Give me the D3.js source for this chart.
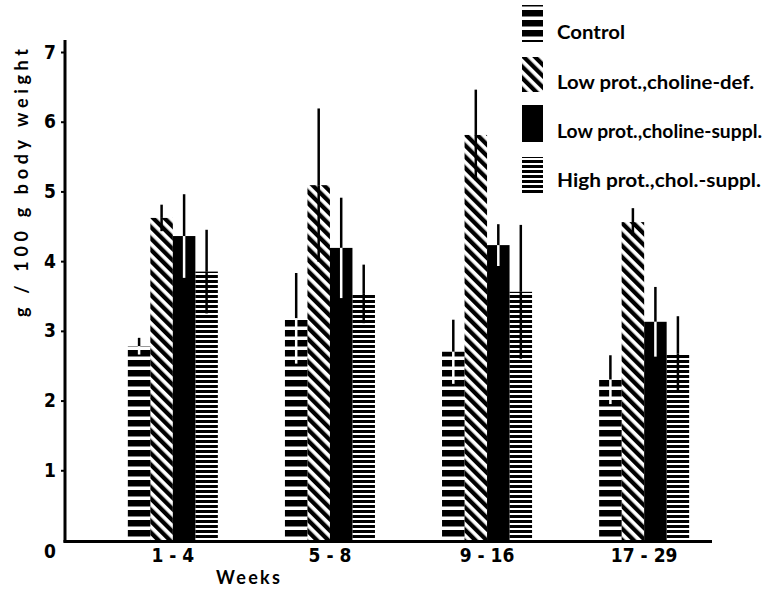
<!DOCTYPE html>
<html><head><meta charset="utf-8">
<script src="https://cdn.jsdelivr.net/npm/d3@7"></script>
<style>body{margin:0;background:#fff}</style>
</head><body>
<svg id="c" width="777" height="590"></svg>
<script>
const weeks = ["1 - 4", "5 - 8", "9 - 16", "17 - 29"];
const seriesNames = ["Control", "Low prot.,choline-def.", "Low prot.,choline-suppl.", "High prot.,chol.-suppl."];
const control    = [2.78, 3.18, 2.70, 2.30];
const controlSD  = [0.12, 0.65, 0.46, 0.35];
const lowDef     = [4.62, 5.09, 5.81, 4.56];
const lowDefSD   = [0.19, 1.10, 0.65, 0.20];
const lowSupp    = [4.36, 4.19, 4.23, 3.13];
const lowSuppSD  = [0.60, 0.72, 0.30, 0.50];
const highProt   = [3.85, 3.53, 3.56, 2.68];
const highProtSD = [0.60, 0.42, 0.96, 0.53];
const yTicks = [0, 1, 2, 3, 4, 5, 6, 7];

const svg = d3.select("#c");
const defs = svg.append("defs");

// patterns
const pc = defs.append("pattern").attr("id","pControl").attr("patternUnits","userSpaceOnUse").attr("width",10).attr("height",10);
pc.append("rect").attr("x",0).attr("y",0).attr("width",10).attr("height",6.5).attr("fill","#000");
const ph = defs.append("pattern").attr("id","pHatch").attr("patternUnits","userSpaceOnUse").attr("width",8).attr("height",8).attr("patternTransform","rotate(-45)");
ph.append("rect").attr("x",0).attr("y",0).attr("width",4.3).attr("height",8).attr("fill","#000");
const pg = defs.append("pattern").attr("id","pHigh").attr("patternUnits","userSpaceOnUse").attr("width",5).attr("height",5);
pg.append("rect").attr("x",0).attr("y",0).attr("width",5).attr("height",3).attr("fill","#000");

const fills = ["url(#pControl)", "url(#pHatch)", "#000", "url(#pHigh)"];
const innerErr = ["#fff", "#000", "#fff", "#000"];
const vals = [control, lowDef, lowSupp, highProt];
const sds = [controlSD, lowDefSD, lowSuppSD, highProtSD];

const x0 = d3.scaleBand().domain(weeks).range([65, 752]).paddingInner(0.427).paddingOuter(0.40);
const x1 = d3.scaleBand().domain(d3.range(4)).range([0, x0.bandwidth()]);
const y = d3.scaleLinear().domain([0, 7]).range([540, 52]);

const data = [];
weeks.forEach((w, gi) => {
  for (let s = 0; s < 4; s++) data.push({w, s, v: vals[s][gi], sd: sds[s][gi]});
});

const g = svg.append("g");
g.selectAll("rect.bar").data(data).join("rect").attr("class","bar")
  .attr("x", d => x0(d.w) + x1(d.s))
  .attr("y", d => y(d.v))
  .attr("width", x1.bandwidth())
  .attr("height", d => y(0) - y(d.v))
  .attr("fill", d => fills[d.s]);

// error bars: part above bar in black, part inside bar
g.selectAll("line.eu").data(data).join("line").attr("class","eu")
  .attr("x1", d => x0(d.w) + x1(d.s) + x1.bandwidth()/2)
  .attr("x2", d => x0(d.w) + x1(d.s) + x1.bandwidth()/2)
  .attr("y1", d => y(d.v)).attr("y2", d => y(d.v + d.sd))
  .attr("stroke","#000").attr("stroke-width",2.5);
g.selectAll("line.el").data(data).join("line").attr("class","el")
  .attr("x1", d => x0(d.w) + x1(d.s) + x1.bandwidth()/2)
  .attr("x2", d => x0(d.w) + x1(d.s) + x1.bandwidth()/2)
  .attr("y1", d => y(d.v)).attr("y2", d => y(d.v - d.sd))
  .attr("stroke", d => innerErr[d.s]).attr("stroke-width",2.5);

// axes
svg.append("line").attr("x1",65).attr("x2",65).attr("y1",40).attr("y2",542.5).attr("stroke","#000").attr("stroke-width",3);
svg.append("line").attr("x1",63.5).attr("x2",712).attr("y1",541.5).attr("y2",541.5).attr("stroke","#000").attr("stroke-width",3);

const tickFont = "'DejaVu Sans Condensed','DejaVu Sans',sans-serif";
const yAx = svg.append("g").attr("transform","translate(64,0)")
  .call(d3.axisLeft(y).tickValues(yTicks).tickSize(3).tickPadding(5).tickFormat(d3.format("d")));
yAx.select(".domain").remove();
yAx.selectAll(".tick line").attr("stroke","#000").attr("stroke-width",2);
yAx.selectAll("text").attr("font-family",tickFont)
  .attr("font-stretch","condensed").attr("font-weight","bold").attr("font-size",19).attr("fill","#000");
yAx.selectAll(".tick").filter(d => d === 0).select("text").attr("dy","0.9em");
yAx.selectAll(".tick").filter(d => d === 0).select("line").remove();

const xAx = svg.append("g").attr("transform","translate(0,545)")
  .call(d3.axisBottom(x0).tickSize(0).tickPadding(3));
xAx.select(".domain").remove();
xAx.selectAll("text").attr("font-family",tickFont)
  .attr("font-stretch","condensed").attr("font-weight","bold").attr("font-size",19).attr("fill","#000");

// axis titles
svg.append("text").attr("transform","translate(28,183) rotate(-90)").attr("text-anchor","middle")
  .attr("font-family","Lato, sans-serif").attr("font-weight","bold").attr("font-size",18)
  .attr("textLength",268).attr("lengthAdjust","spacing")
  .text("g / 100 g   body weight");
svg.append("text").attr("x",216).attr("y",584)
  .attr("font-family","Lato, sans-serif").attr("font-weight","bold").attr("font-size",18)
  .attr("textLength",64).attr("lengthAdjust","spacing")
  .text("Weeks");

// legend
const legY = [5, 57, 105, 157];
const legH = [37, 35, 37, 36];
const legTextY = [39, 89, 138, 187];
const legLen = [68, 197, 205, 204];
const lg = svg.append("g");
seriesNames.forEach((name, i) => {
  lg.append("rect").attr("x",522).attr("y",legY[i]).attr("width",21).attr("height",legH[i]).attr("fill",fills[i]);
  lg.append("text").attr("x",557).attr("y",legTextY[i])
    .attr("font-family","Lato, sans-serif").attr("font-weight","bold").attr("font-size",18)
    .attr("textLength",legLen[i]).attr("lengthAdjust","spacingAndGlyphs")
    .text(name);
});
</script>
</body></html>
